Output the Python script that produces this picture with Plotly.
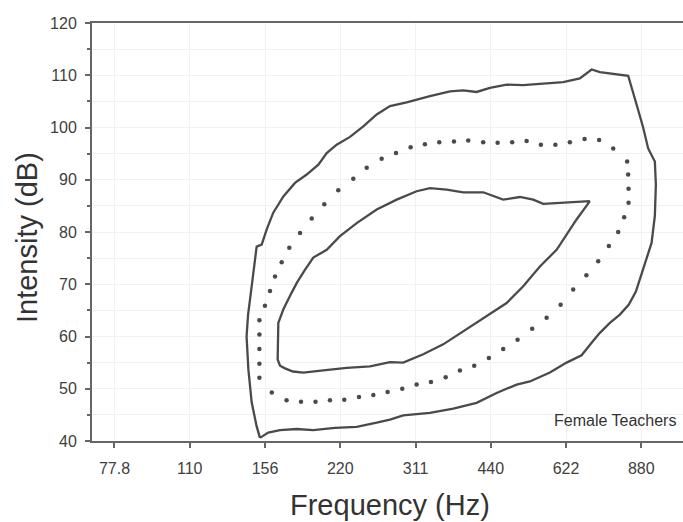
import math
import plotly.graph_objects as go

# ---- data (frequency in Hz, intensity in dB) ----
outer_freq = [152.0, 149.7, 146.3, 144.1, 142.9, 143.9, 145.2, 147.2, 149.7, 153.2,
              156.8, 161.6, 169.3, 178.6, 188.5, 198.9, 206.7, 216.4, 230.1, 244.6,
              260.2, 276.6, 298.7, 332.5, 364.6, 387.5, 412.2, 438.3, 473.3, 510.9,
              560.2, 614.2, 663.2, 684.0, 700.0, 727.2, 785.4, 828.4, 861.1, 887.6,
              908.3, 936.7, 941.1, 936.7, 922.6, 886.4, 858.3, 831.0, 797.3, 761.5,
              727.2, 700.0, 668.4, 623.9, 577.7, 526.9, 495.6, 452.0, 412.2, 370.2,
              332.5, 294.0, 276.6, 260.2, 237.3, 214.7, 194.3, 180.0, 166.7, 157.9, 152.0]
outer_db = [40.6, 42.8, 47.4, 53.7, 60.0, 64.2, 67.1, 71.9, 77.2, 77.6,
            80.5, 83.7, 86.8, 89.4, 91.0, 92.9, 95.1, 96.7, 98.2, 100.2,
            102.5, 104.1, 104.8, 106.0, 106.9, 107.1, 106.8, 107.6, 108.2, 108.1,
            108.4, 108.7, 109.4, 110.4, 111.1, 110.6, 110.2, 109.9, 104.4, 100.0,
            96.0, 93.5, 89.1, 83.1, 77.9, 72.8, 68.6, 66.1, 64.2, 62.6,
            60.7, 58.8, 56.4, 55.0, 53.1, 51.4, 50.8, 49.2, 47.3, 46.2,
            45.4, 44.9, 44.1, 43.5, 42.7, 42.5, 42.1, 42.3, 42.1, 41.6, 40.6]

inner_freq = [694.5, 614.2, 560.2, 535.0, 503.2, 465.9, 424.9, 387.5, 359.1, 332.5,
              312.7, 285.3, 260.2, 237.3, 219.7, 206.7, 194.3, 187.1, 180.2, 175.9,
              169.3, 165.4, 164.9, 164.9, 166.7, 170.6, 176.9, 185.6, 203.5, 226.6,
              252.3, 276.6, 294.0, 322.4, 353.5, 387.5, 424.9, 473.3, 510.9, 551.7,
              595.8, 653.2, 694.5]
inner_db = [85.9, 85.6, 85.4, 86.2, 86.7, 86.2, 87.6, 87.6, 88.1, 88.4,
            87.8, 86.2, 84.3, 81.7, 79.2, 76.6, 75.1, 72.8, 70.3, 68.4,
            65.2, 62.6, 58.5, 55.6, 54.4, 53.9, 53.3, 53.1, 53.5, 54.0,
            54.3, 55.1, 55.0, 56.6, 58.5, 61.0, 63.6, 66.4, 69.6, 73.4,
            76.6, 82.4, 85.9]

mid_freq = [151.6, 151.6, 151.6, 151.6, 151.6, 155.5, 159.2, 162.9, 168.0, 174.0,
            182.8, 192.9, 204.4, 218.0, 233.6, 248.5, 266.2, 284.4, 304.2, 324.9,
            347.1, 371.4, 396.6, 424.9, 454.1, 485.6, 519.0, 554.2, 592.5, 633.4,
            677.7, 724.6, 773.2, 824.6, 828.4, 829.9, 829.9, 813.2, 791.2, 758.0,
            721.6, 683.4, 643.1, 606.9, 569.0, 532.5, 497.8, 465.9, 436.2, 407.7,
            381.7, 357.5, 334.0, 312.7, 292.7, 273.6, 256.2, 239.8, 224.1, 209.8,
            196.3, 183.6, 171.8, 160.5]
mid_db = [52.1, 54.8, 57.6, 60.4, 63.1, 65.9, 68.7, 71.5, 74.2, 77.0,
          79.8, 82.6, 85.3, 88.0, 90.2, 92.3, 94.0, 95.1, 96.2, 96.8,
          97.2, 97.3, 97.5, 97.2, 97.1, 97.2, 97.4, 96.7, 96.7, 97.2,
          97.8, 97.6, 96.0, 93.5, 91.0, 88.3, 85.6, 82.8, 80.0, 77.3,
          74.4, 71.7, 69.0, 66.1, 63.6, 61.5, 59.4, 57.6, 55.9, 54.4,
          53.5, 52.2, 51.3, 50.8, 50.0, 49.4, 48.8, 48.4, 47.9, 47.8,
          47.5, 47.5, 47.8, 49.3]

x_tick_vals = [77.78, 110.0, 155.56, 220.0, 311.13, 440.0, 622.25, 880.0]
x_tick_text = ["77.8", "110", "156", "220", "311", "440", "622", "880"]
y_tick_vals = [40, 50, 60, 70, 80, 90, 100, 110, 120]

FONT = "Liberation Sans, Arial, sans-serif"
INK = "#4a4a4a"

fig = go.Figure()
fig.add_trace(go.Scatter(x=outer_freq, y=outer_db, mode="lines",
                         line=dict(color=INK, width=2.3), hoverinfo="skip"))
fig.add_trace(go.Scatter(x=inner_freq, y=inner_db, mode="lines",
                         line=dict(color=INK, width=2.3), hoverinfo="skip"))
fig.add_trace(go.Scatter(x=mid_freq, y=mid_db, mode="markers",
                         marker=dict(color=INK, size=4.5), hoverinfo="skip"))

fig.update_layout(
    width=683, height=522,
    margin=dict(l=92, r=0, t=23, b=81),
    paper_bgcolor="white", plot_bgcolor="white",
    showlegend=False,
    font=dict(family=FONT, color="#3a3a3a"),
)

fig.update_xaxes(
    type="log", range=[1.8459, 3.0279],
    tickvals=x_tick_vals, ticktext=x_tick_text,
    ticks="outside", ticklen=5, tickwidth=1.5, tickcolor="#666",
    tickfont=dict(size=16, color="#404040", family=FONT),
    ticklabelstandoff=7,
    showline=True, linecolor="#666", linewidth=2, mirror=True,
    showgrid=True, gridcolor="#f1f1f1", gridwidth=1,
    zeroline=False,
)
fig.update_yaxes(
    range=[40, 120], tickvals=y_tick_vals,
    ticks="outside", ticklen=5, tickwidth=1.5, tickcolor="#666",
    tickfont=dict(size=16, color="#404040", family=FONT),
    ticklabelstandoff=5,
    minor=dict(dtick=5, ticks="outside", ticklen=3, tickcolor="#666",
               showgrid=True, gridcolor="#f1f1f1"),
    showline=True, linecolor="#666", linewidth=2, mirror=False,
    showgrid=True, gridcolor="#f1f1f1", gridwidth=1,
    zeroline=False,
)

fig.add_annotation(text="Frequency (Hz)", xref="paper", yref="paper",
                   x=0.505, y=-0.153, xanchor="center", yanchor="middle",
                   showarrow=False, font=dict(size=29, color="#333", family=FONT))
fig.add_annotation(text="Intensity (dB)", xref="paper", yref="paper",
                   x=-0.110, y=0.488, xanchor="center", yanchor="middle",
                   textangle=-90, showarrow=False,
                   font=dict(size=29, color="#333", family=FONT))
fig.add_annotation(text="Female Teachers", xref="paper", yref="paper",
                   x=0.778, y=0.048, xanchor="left", yanchor="middle",
                   showarrow=False, font=dict(size=16, color="#333", family=FONT))

fig.write_html("out.html")
